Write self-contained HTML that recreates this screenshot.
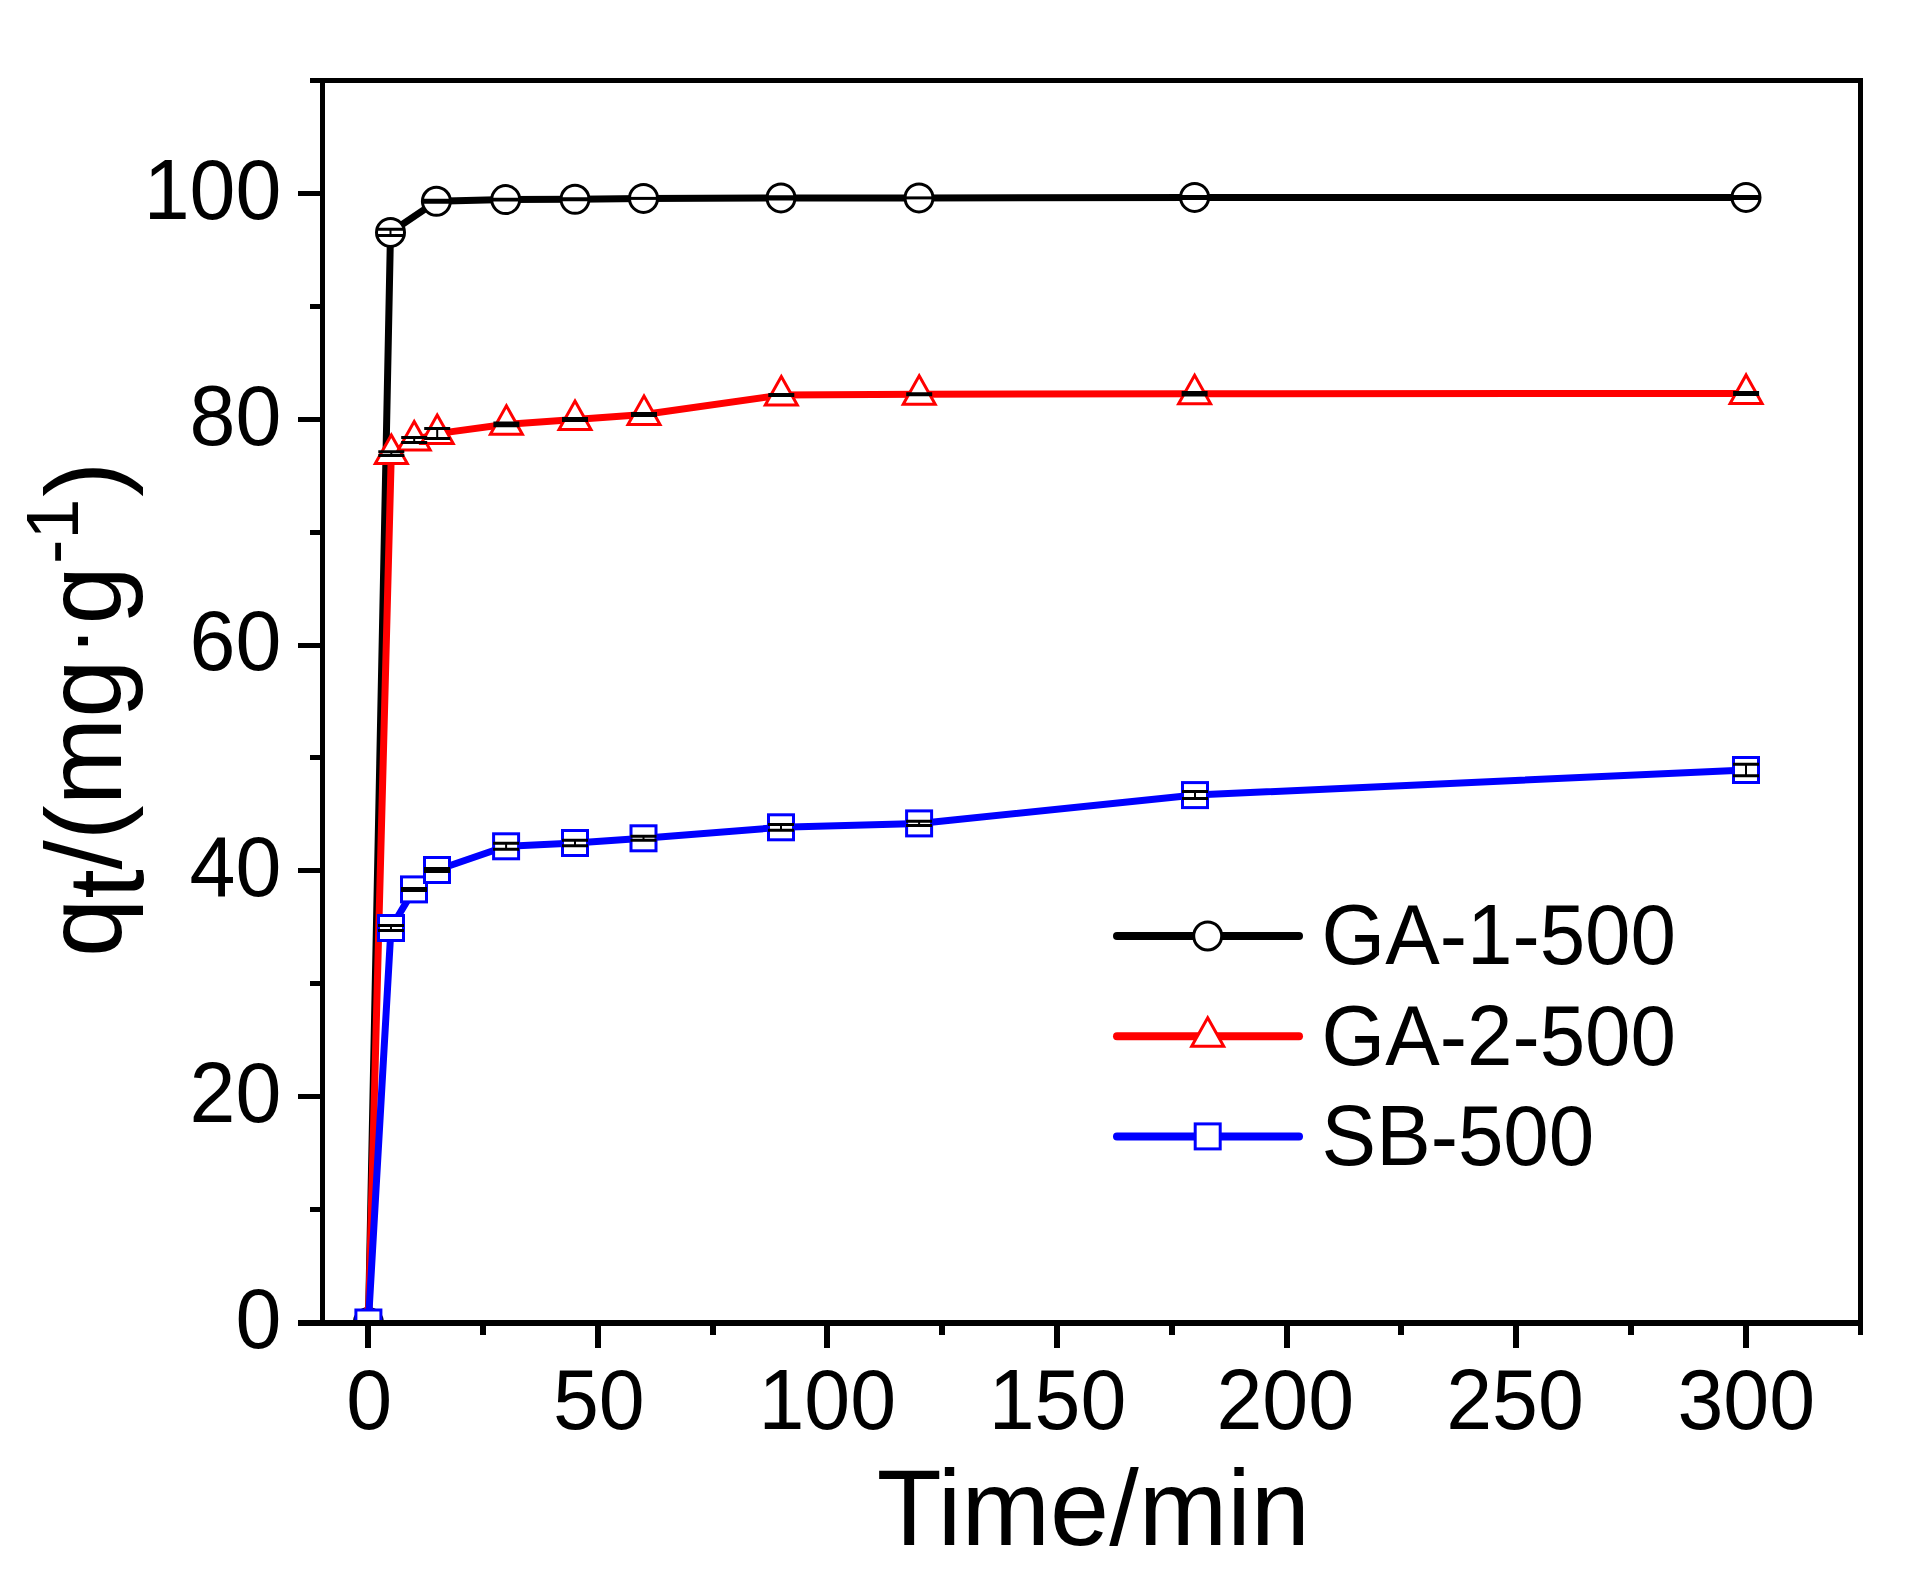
<!DOCTYPE html>
<html lang="en">
<head>
<meta charset="utf-8">
<title>Adsorption kinetics: qt versus time</title>
<style>
html,body{margin:0;padding:0;background:#fff;}
body{width:1919px;height:1577px;overflow:hidden;}
svg{display:block;}
text{font-family:"Liberation Sans",Arial,Helvetica,sans-serif;fill:#000;}
</style>
</head>
<body>
<svg width="1919" height="1577" viewBox="0 0 1919 1577">
<rect x="0" y="0" width="1919" height="1577" fill="#fff"/>

<defs><clipPath id="plotclip"><rect x="322" y="80" width="1539" height="1243"/></clipPath></defs>
<g clip-path="url(#plotclip)">
<polyline points="368.4,1322.5 390.5,232.4 436.4,201.3 505.7,199.6 575,199.3 643.5,198.4 781,197.9 919,197.9 1194.6,197.4 1746,197.4" fill="none" stroke="#000" stroke-width="7" stroke-linejoin="round"/>
<circle cx="368.4" cy="1322.5" r="14" fill="#fff" stroke="#000" stroke-width="3"/>
<circle cx="390.5" cy="232.4" r="14" fill="#fff" stroke="#000" stroke-width="3"/>
<circle cx="436.4" cy="201.3" r="14" fill="#fff" stroke="#000" stroke-width="3"/>
<circle cx="505.7" cy="199.6" r="14" fill="#fff" stroke="#000" stroke-width="3"/>
<circle cx="575" cy="199.3" r="14" fill="#fff" stroke="#000" stroke-width="3"/>
<circle cx="643.5" cy="198.4" r="14" fill="#fff" stroke="#000" stroke-width="3"/>
<circle cx="781" cy="197.9" r="14" fill="#fff" stroke="#000" stroke-width="3"/>
<circle cx="919" cy="197.9" r="14" fill="#fff" stroke="#000" stroke-width="3"/>
<circle cx="1194.6" cy="197.4" r="14" fill="#fff" stroke="#000" stroke-width="3"/>
<circle cx="1746" cy="197.4" r="14" fill="#fff" stroke="#000" stroke-width="3"/>
<path d="M377.5 229.3H403.5M377.5 235.5H403.5" stroke="#000" stroke-width="3"/><path d="M390.5 229.3V235.5" stroke="#000" stroke-width="2"/>
<path d="M423.4 200.3H449.4M423.4 202.3H449.4" stroke="#000" stroke-width="3"/>
<path d="M492.7 199.3H518.7M492.7 199.9H518.7" stroke="#000" stroke-width="3"/>
<path d="M562 198.8H588M562 199.8H588" stroke="#000" stroke-width="3"/>
<path d="M630.5 198.4H656.5" stroke="#000" stroke-width="3"/>
<path d="M768 196.7H794M768 199.1H794" stroke="#000" stroke-width="3"/>
<path d="M906 197.9H932" stroke="#000" stroke-width="3"/>
<path d="M1181.6 196.4H1207.6M1181.6 198.4H1207.6" stroke="#000" stroke-width="3"/>
<path d="M1733 196.4H1759M1733 198.4H1759" stroke="#000" stroke-width="3"/>
<polyline points="368.4,1322.5 391.3,453.6 414.2,440 437.2,433.6 506.4,424.3 575,419.5 644,414.5 781.3,395.1 919.2,394.2 1194.6,393.8 1746.1,393.4" fill="none" stroke="#f00" stroke-width="7" stroke-linejoin="round"/>
<path d="M368.4 1304L384.4 1332.5L352.4 1332.5Z" fill="#fff" stroke="#f00" stroke-width="3" stroke-linejoin="miter"/>
<path d="M391.3 435.1L407.3 463.6L375.3 463.6Z" fill="#fff" stroke="#f00" stroke-width="3" stroke-linejoin="miter"/>
<path d="M414.2 421.5L430.2 450L398.2 450Z" fill="#fff" stroke="#f00" stroke-width="3" stroke-linejoin="miter"/>
<path d="M437.2 415.1L453.2 443.6L421.2 443.6Z" fill="#fff" stroke="#f00" stroke-width="3" stroke-linejoin="miter"/>
<path d="M506.4 405.8L522.4 434.3L490.4 434.3Z" fill="#fff" stroke="#f00" stroke-width="3" stroke-linejoin="miter"/>
<path d="M575 401L591 429.5L559 429.5Z" fill="#fff" stroke="#f00" stroke-width="3" stroke-linejoin="miter"/>
<path d="M644 396L660 424.5L628 424.5Z" fill="#fff" stroke="#f00" stroke-width="3" stroke-linejoin="miter"/>
<path d="M781.3 376.6L797.3 405.1L765.3 405.1Z" fill="#fff" stroke="#f00" stroke-width="3" stroke-linejoin="miter"/>
<path d="M919.2 375.7L935.2 404.2L903.2 404.2Z" fill="#fff" stroke="#f00" stroke-width="3" stroke-linejoin="miter"/>
<path d="M1194.6 375.3L1210.6 403.8L1178.6 403.8Z" fill="#fff" stroke="#f00" stroke-width="3" stroke-linejoin="miter"/>
<path d="M1746.1 374.9L1762.1 403.4L1730.1 403.4Z" fill="#fff" stroke="#f00" stroke-width="3" stroke-linejoin="miter"/>
<path d="M378.3 451.7H404.3M378.3 455.5H404.3" stroke="#000" stroke-width="3"/><path d="M391.3 451.7V455.5" stroke="#000" stroke-width="2"/>
<path d="M401.2 437.4H427.2M401.2 442.6H427.2" stroke="#000" stroke-width="3"/><path d="M414.2 437.4V442.6" stroke="#000" stroke-width="2"/>
<path d="M424.2 428.6H450.2M424.2 438.6H450.2" stroke="#000" stroke-width="3"/><path d="M437.2 428.6V438.6" stroke="#000" stroke-width="2"/>
<path d="M493.4 422.9H519.4M493.4 425.7H519.4" stroke="#000" stroke-width="3"/>
<path d="M562 418.5H588M562 420.5H588" stroke="#000" stroke-width="3"/>
<path d="M631 413.5H657M631 415.5H657" stroke="#000" stroke-width="3"/>
<path d="M768.3 394.6H794.3M768.3 395.6H794.3" stroke="#000" stroke-width="3"/>
<path d="M906.2 393.7H932.2M906.2 394.7H932.2" stroke="#000" stroke-width="3"/>
<path d="M1181.6 392.6H1207.6M1181.6 395H1207.6" stroke="#000" stroke-width="3"/>
<path d="M1733.1 392.4H1759.1M1733.1 394.4H1759.1" stroke="#000" stroke-width="3"/>
<polyline points="368.4,1322.5 391,928 414,889.4 437,870 506.1,846.3 575,843 643.5,838.3 781,827.3 919.1,823.4 1195,795.1 1746,770" fill="none" stroke="#00f" stroke-width="7" stroke-linejoin="round"/>
<rect x="355.9" y="1310" width="25" height="25" fill="#fff" stroke="#00f" stroke-width="3"/>
<rect x="378.5" y="915.5" width="25" height="25" fill="#fff" stroke="#00f" stroke-width="3"/>
<rect x="401.5" y="876.9" width="25" height="25" fill="#fff" stroke="#00f" stroke-width="3"/>
<rect x="424.5" y="857.5" width="25" height="25" fill="#fff" stroke="#00f" stroke-width="3"/>
<rect x="493.6" y="833.8" width="25" height="25" fill="#fff" stroke="#00f" stroke-width="3"/>
<rect x="562.5" y="830.5" width="25" height="25" fill="#fff" stroke="#00f" stroke-width="3"/>
<rect x="631" y="825.8" width="25" height="25" fill="#fff" stroke="#00f" stroke-width="3"/>
<rect x="768.5" y="814.8" width="25" height="25" fill="#fff" stroke="#00f" stroke-width="3"/>
<rect x="906.6" y="810.9" width="25" height="25" fill="#fff" stroke="#00f" stroke-width="3"/>
<rect x="1182.5" y="782.6" width="25" height="25" fill="#fff" stroke="#00f" stroke-width="3"/>
<rect x="1733.5" y="757.5" width="25" height="25" fill="#fff" stroke="#00f" stroke-width="3"/>
<path d="M378 925.4H404M378 930.6H404" stroke="#000" stroke-width="3"/><path d="M391 925.4V930.6" stroke="#000" stroke-width="2"/>
<path d="M401 888.4H427M401 890.4H427" stroke="#000" stroke-width="3"/>
<path d="M424 868.4H450M424 871.6H450" stroke="#000" stroke-width="3"/>
<path d="M493.1 843.3H519.1M493.1 849.3H519.1" stroke="#000" stroke-width="3"/><path d="M506.1 843.3V849.3" stroke="#000" stroke-width="2"/>
<path d="M562 840.3H588M562 845.7H588" stroke="#000" stroke-width="3"/><path d="M575 840.3V845.7" stroke="#000" stroke-width="2"/>
<path d="M630.5 836.3H656.5M630.5 840.3H656.5" stroke="#000" stroke-width="3"/><path d="M643.5 836.3V840.3" stroke="#000" stroke-width="2"/>
<path d="M768 824.4H794M768 830.2H794" stroke="#000" stroke-width="3"/><path d="M781 824.4V830.2" stroke="#000" stroke-width="2"/>
<path d="M906.1 821.3H932.1M906.1 825.5H932.1" stroke="#000" stroke-width="3"/><path d="M919.1 821.3V825.5" stroke="#000" stroke-width="2"/>
<path d="M1182 791.6H1208M1182 798.6H1208" stroke="#000" stroke-width="3"/><path d="M1195 791.6V798.6" stroke="#000" stroke-width="2"/>
<path d="M1733 764.3H1759M1733 775.7H1759" stroke="#000" stroke-width="3"/><path d="M1746 764.3V775.7" stroke="#000" stroke-width="2"/>
</g>
<g fill="#000" shape-rendering="crispEdges">
<rect x="320" y="78" width="5" height="1248"/>
<rect x="1858" y="78" width="5" height="1248"/>
<rect x="320" y="78" width="1543" height="5"/>
<rect x="320" y="1320" width="1543" height="6"/>
<rect x="298" y="1320" width="22" height="6"/>
<rect x="310" y="1207" width="10" height="5"/>
<rect x="298" y="1094" width="22" height="5"/>
<rect x="310" y="981" width="10" height="5"/>
<rect x="298" y="868" width="22" height="5"/>
<rect x="310" y="755" width="10" height="5"/>
<rect x="298" y="643" width="22" height="5"/>
<rect x="310" y="530" width="10" height="5"/>
<rect x="298" y="417" width="22" height="5"/>
<rect x="310" y="304" width="10" height="5"/>
<rect x="298" y="191" width="22" height="5"/>
<rect x="310" y="78" width="10" height="5"/>
<rect x="365" y="1326" width="6" height="22"/>
<rect x="480" y="1326" width="6" height="9"/>
<rect x="595" y="1326" width="6" height="22"/>
<rect x="710" y="1326" width="6" height="9"/>
<rect x="824" y="1326" width="6" height="22"/>
<rect x="939" y="1326" width="6" height="9"/>
<rect x="1054" y="1326" width="6" height="22"/>
<rect x="1169" y="1326" width="6" height="9"/>
<rect x="1284" y="1326" width="6" height="22"/>
<rect x="1398" y="1326" width="6" height="9"/>
<rect x="1513" y="1326" width="6" height="22"/>
<rect x="1628" y="1326" width="6" height="9"/>
<rect x="1743" y="1326" width="6" height="22"/>
<rect x="1858" y="1326" width="5" height="9"/>
</g>
<text transform="translate(281.3 1347.9) scale(1 1.04)" font-size="82.5" text-anchor="end">0</text>
<text transform="translate(281.3 1122.08) scale(1 1.04)" font-size="82.5" text-anchor="end">20</text>
<text transform="translate(281.3 896.26) scale(1 1.04)" font-size="82.5" text-anchor="end">40</text>
<text transform="translate(281.3 670.45) scale(1 1.04)" font-size="82.5" text-anchor="end">60</text>
<text transform="translate(281.3 444.63) scale(1 1.04)" font-size="82.5" text-anchor="end">80</text>
<text transform="translate(281.3 218.81) scale(1 1.04)" font-size="82.5" text-anchor="end">100</text>
<text transform="translate(369.2 1428.9) scale(1 1.04)" font-size="82.5" text-anchor="middle">0</text>
<text transform="translate(598.75 1428.9) scale(1 1.04)" font-size="82.5" text-anchor="middle">50</text>
<text transform="translate(827.3 1428.9) scale(1 1.04)" font-size="82.5" text-anchor="middle">100</text>
<text transform="translate(1057.45 1428.9) scale(1 1.04)" font-size="82.5" text-anchor="middle">150</text>
<text transform="translate(1285.2 1428.9) scale(1 1.04)" font-size="82.5" text-anchor="middle">200</text>
<text transform="translate(1514.95 1428.9) scale(1 1.04)" font-size="82.5" text-anchor="middle">250</text>
<text transform="translate(1746.2 1428.9) scale(1 1.04)" font-size="82.5" text-anchor="middle">300</text>
<text transform="translate(1093.4 1545) scale(1.0127 1.02)" font-size="105" text-anchor="middle">Time/min</text>
<text transform="translate(120.7 957) rotate(-90) scale(1 1.02)" font-size="105" text-anchor="start">q<tspan dy="22">t</tspan><tspan dy="-22">/(mg</tspan><tspan dy="-12.5" dx="3.5" font-size="90">·</tspan><tspan dy="12.5" dx="1.5">g</tspan><tspan dy="-42" dx="2" font-size="73.5">-1</tspan><tspan dy="42" dx="2">)</tspan></text>
<g>
<path d="M1117 936H1299" stroke="#000" stroke-width="8" stroke-linecap="round" fill="none"/>
<circle cx="1207.7" cy="936" r="14" fill="#fff" stroke="#000" stroke-width="3"/>
<path d="M1117 1036.3H1299" stroke="#f00" stroke-width="8" stroke-linecap="round" fill="none"/>
<path d="M1207.7 1017.8L1223.7 1046.3L1191.7 1046.3Z" fill="#fff" stroke="#f00" stroke-width="3" stroke-linejoin="miter"/>
<path d="M1117 1136.4H1299" stroke="#00f" stroke-width="8" stroke-linecap="round" fill="none"/>
<rect x="1195.2" y="1123.9" width="25" height="25" fill="#fff" stroke="#00f" stroke-width="3"/>
</g>
<text transform="translate(1321.6 964.1) scale(0.991 1.04)" font-size="82.5" text-anchor="start">GA-1-500</text>
<text transform="translate(1321.6 1064.9) scale(0.991 1.04)" font-size="82.5" text-anchor="start">GA-2-500</text>
<text transform="translate(1321.6 1165) scale(0.991 1.04)" font-size="82.5" text-anchor="start">SB-500</text>
</svg>
</body>
</html>
